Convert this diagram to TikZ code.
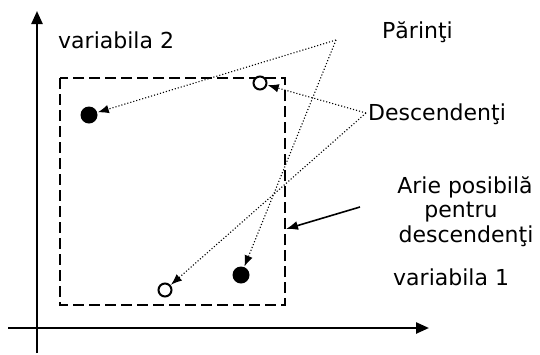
\documentclass[tikz,border=0pt]{standalone}
\usepackage{fontspec}
\setmainfont{DejaVu Sans}
\usetikzlibrary{arrows.meta}
\begin{document}
\begin{tikzpicture}[x=1pt,y=-1pt,
  axis/.style={line width=2.4pt,-{Triangle[length=13pt,width=11pt]}},
  area/.style={draw,line width=2.2pt,dash pattern=on 11pt off 5pt},
  pointer/.style={line width=1.1pt,dotted,-{Latex[length=11pt,width=8.5pt]},shorten >=0.5pt},
  solidptr/.style={line width=1.6pt,-{Latex[length=12pt,width=9pt]}},
  parentdot/.style={circle,fill=black,minimum size=17pt,inner sep=0pt},
  childdot/.style={circle,draw=black,line width=2pt,fill=white,minimum size=13pt,inner sep=0pt},
  lbl/.style={inner sep=0pt,font=\fontsize{22}{26}\selectfont}]
\useasboundingbox (0,0) rectangle (540,354);
% axes
\coordinate (yb) at (37,353);
\coordinate (yt) at (37,11);
\coordinate (xl) at (8,328);
\coordinate (xr) at (429,328);
\draw[axis] (yb) -- (yt);
\draw[axis] (xl) -- (xr);
% feasible area
\draw[area] (60,78) rectangle (285,305);
% points
\node[parentdot] (p1) at (89,115) {};
\node[parentdot] (p2) at (241,275) {};
\node[childdot] (c1) at (260,83) {};
\node[childdot] (c2) at (165,290) {};
% labels
\node[lbl,anchor=base west] (v2) at (58,48) {variabila 2};
\node[lbl,anchor=base west] (par) at (382,38) {Părinţi};
\node[lbl,anchor=base west] (desc) at (368,120) {Descendenţi};
\node[lbl,anchor=base] (ar1) at (465,193) {Arie posibilă};
\node[lbl,anchor=base] (ar2) at (461,217) {pentru};
\node[lbl,anchor=base] (ar3) at (466,242) {descendenţi};
\node[lbl,anchor=base west] (v1) at (393,285) {variabila 1};
% pointer origins
\coordinate (P0) at (336,40);
\coordinate (D0) at (366,113);
\coordinate (A0) at (360,207);
\coordinate (A1) at (286,229);
\draw[pointer] (P0) -- (p1);
\draw[pointer] (P0) -- (p2);
\draw[pointer] (D0) -- (c1);
\draw[pointer] (D0) -- (c2);
\draw[solidptr] (A0) -- (A1);
\end{tikzpicture}
\end{document}
